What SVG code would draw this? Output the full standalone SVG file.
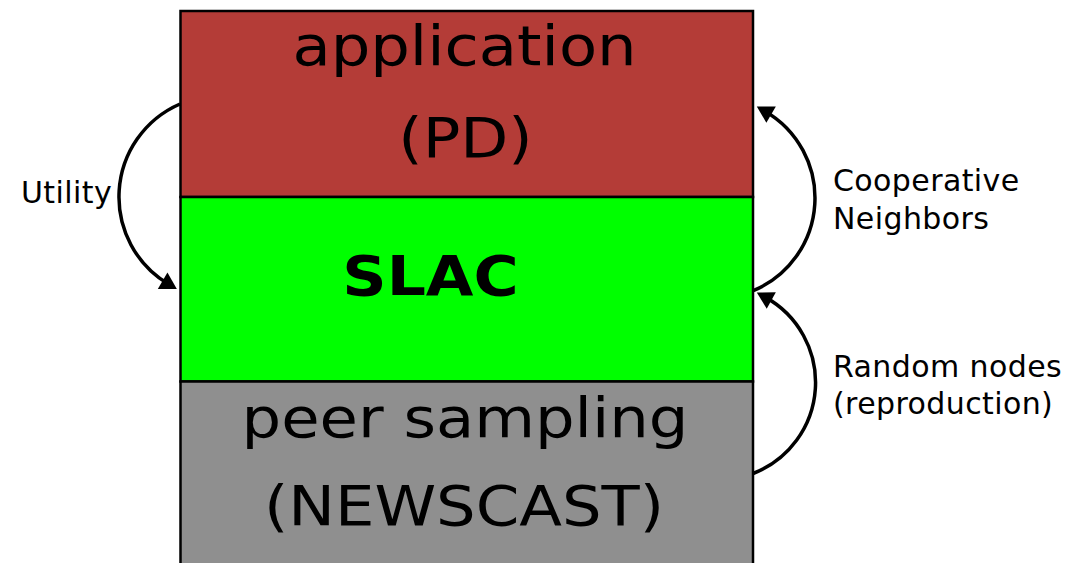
<svg xmlns="http://www.w3.org/2000/svg" width="1083" height="563" viewBox="0 0 1083 563">
<style>
.box{stroke:#000;stroke-width:2.5}
.big{font-family:"DejaVu Sans",sans-serif;font-size:55px;fill:#000;text-anchor:middle}
.lbl{font-family:"DejaVu Sans",sans-serif;font-size:30px;fill:#000;letter-spacing:0.4px}
.arc{fill:none;stroke:#000;stroke-width:3.5}
</style>
<defs>
<marker id="ah" markerUnits="userSpaceOnUse" markerWidth="30" markerHeight="30" viewBox="-15 -15 30 30" refX="0" refY="0" orient="auto" overflow="visible">
<path d="M9,0 L-7.5,-9.5 L-7.5,9.5 Z" fill="#000"/>
</marker>
</defs>
<rect width="1083" height="563" fill="#fff"/>
<g id="application">
<rect class="box" x="180.5" y="11" width="572.5" height="186" fill="#b43c37"/>
<text class="big" x="0" y="65" transform="translate(464.5,0) scale(1.135,1)">application</text>
<text class="big" x="0" y="157" transform="translate(465.5,0) scale(1.135,1)">(PD)</text>
</g>
<g id="slac">
<rect class="box" x="180.5" y="197" width="572.5" height="184.5" fill="#00ff00"/>
<text class="big" x="0" y="295" font-weight="bold" transform="translate(430.5,0) scale(1.12,1)">SLAC</text>
</g>
<g id="peer-sampling">
<rect class="box" x="180.5" y="381.5" width="572.5" height="200" fill="#8f8f8f"/>
<text class="big" x="0" y="437" transform="translate(465,0) scale(1.135,1)">peer sampling</text>
<text class="big" x="0" y="525" transform="translate(464,0) scale(1.135,1)">(NEWSCAST)</text>
</g>
<g id="connectors">
<path class="arc" d="M180,104 A101.4,101.4 0 0 0 169.1,284.5" marker-end="url(#ah)"/>
<path class="arc" d="M753.3,290.7 A100.5,100.5 0 0 0 764.6,110.9" marker-end="url(#ah)"/>
<path class="arc" d="M753.1,473.5 A97.5,97.5 0 0 0 764.7,296.9" marker-end="url(#ah)"/>
</g>
<g id="labels">
<text class="lbl" x="21" y="203" letter-spacing="0.7">Utility</text>
<text class="lbl" x="833" y="191">Cooperative</text>
<text class="lbl" x="833" y="229">Neighbors</text>
<text class="lbl" x="833" y="377">Random nodes</text>
<text class="lbl" x="833" y="414">(reproduction)</text>
</g>
</svg>
